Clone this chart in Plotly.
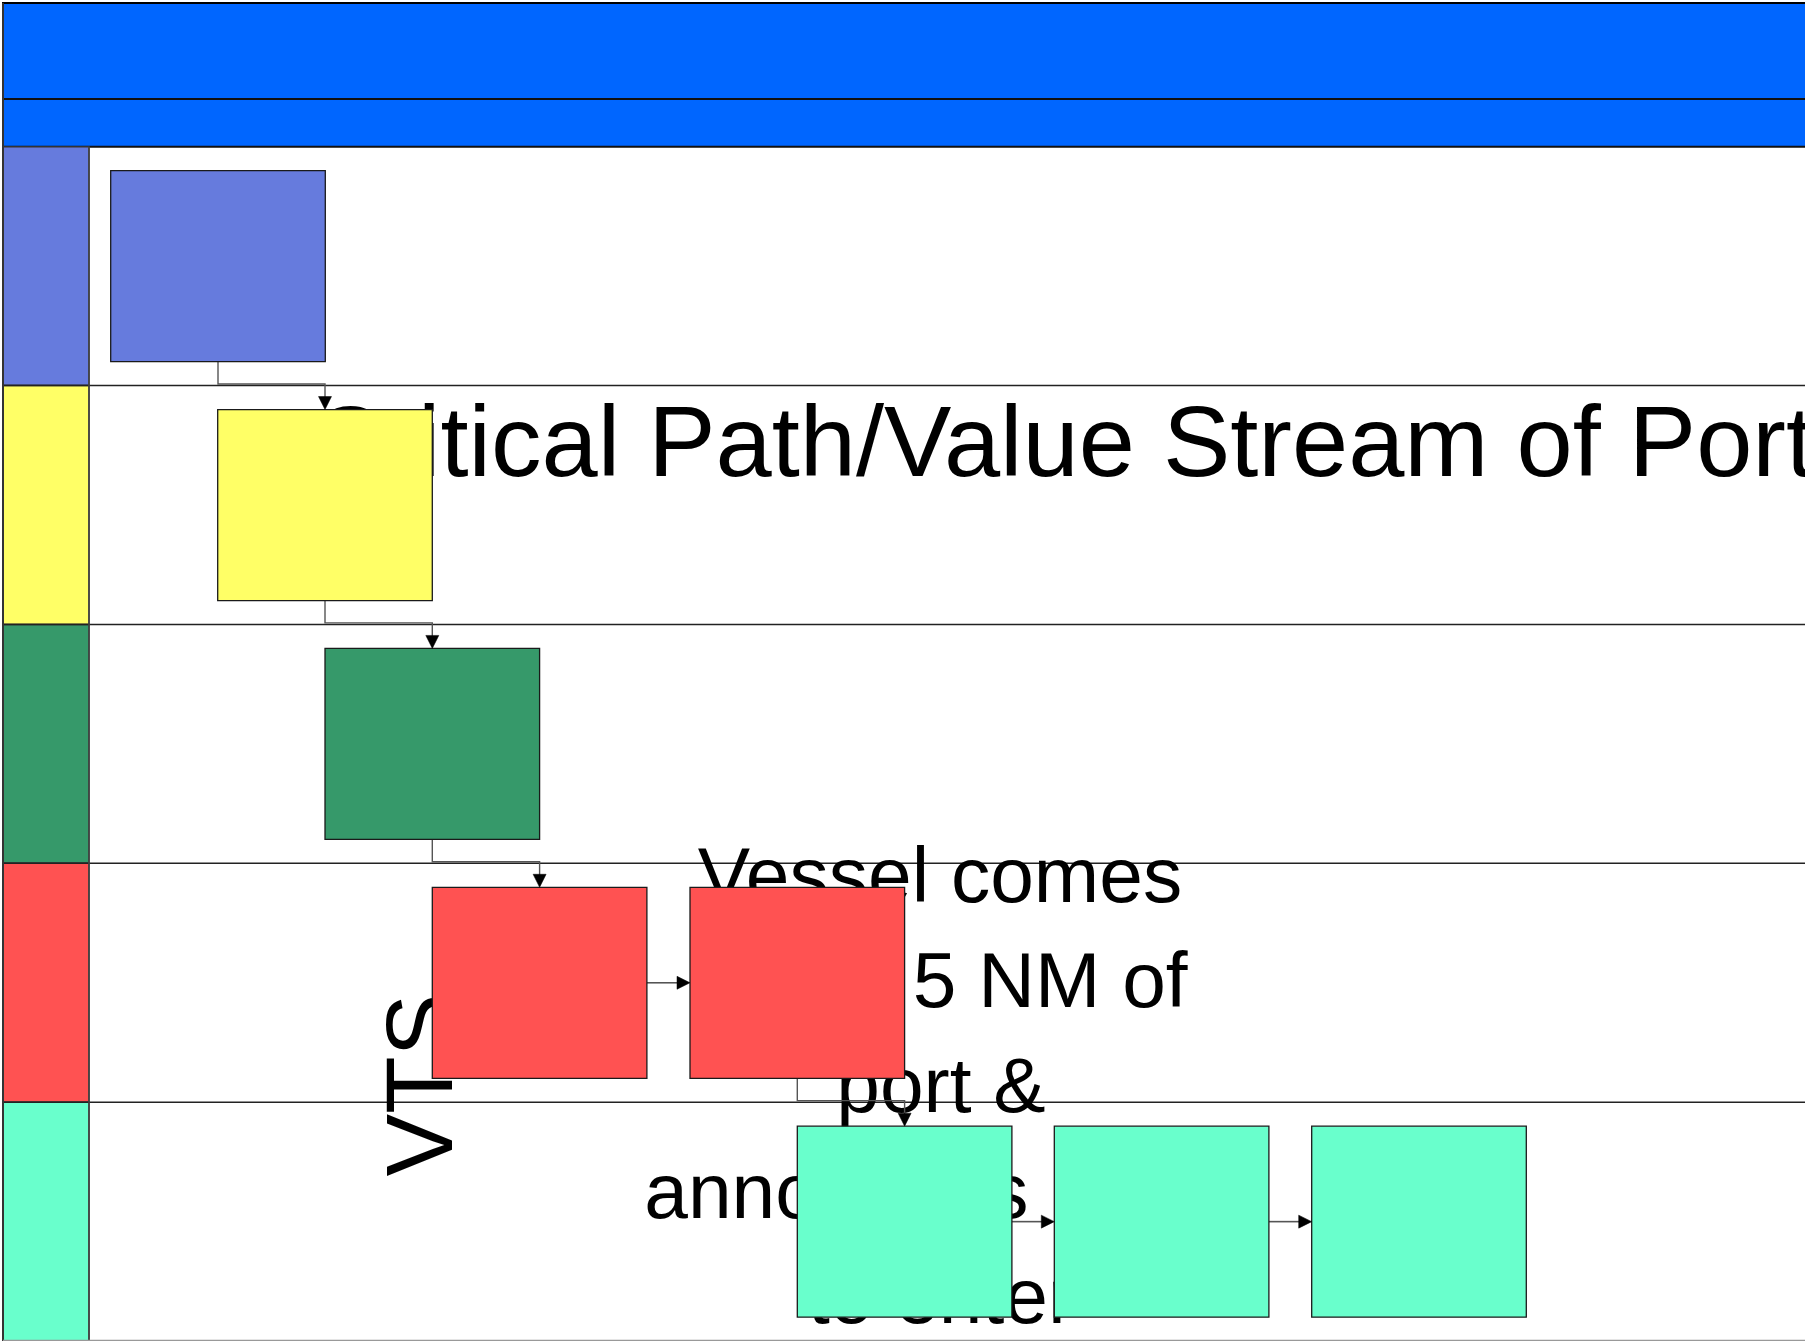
import plotly.graph_objects as go

W, H = 1805, 1341

# ---------------- data ----------------
lane_colors = ["#667BDD", "#FFFF66", "#36996A", "#FF5252", "#69FFCC"]
step_lane = [0, 1, 2, 3, 3, 4, 4, 4]
step_left = [110.7, 217.7, 325.0, 432.3, 690.0, 797.3, 1054.3, 1311.7]
link_from = [0, 1, 2, 3, 4, 5, 6]
link_to = [1, 2, 3, 4, 5, 6, 7]
title_text = "Critical Path/Value Stream of Port"
note_lines = ["Vessel comes", "within 5 NM of", "port &", "announces\u2002intent", "to enter"]
lane_label = "VTS"

# ---------------- layout constants ----------------
FRAME_L, FRAME_T = 3, 3
BAND1_B = 99
HEAD_B = 146.7
LANE_H = 238.86
LABEL_R = 89
BOX_W, BOX_H, BOX_DY = 214.6, 191.0, 24.0
HEAD_COLOR = "#0066FF"
FONT = "Liberation Sans, Arial, sans-serif"
AR_L, AR_W = 13, 6.5
CONN = "#555555"

shapes = []

def lane_top(i):
    return HEAD_B + i * LANE_H

# header bands
shapes.append(dict(type="rect", x0=FRAME_L, x1=W + 5, y0=FRAME_T, y1=BAND1_B,
                   fillcolor=HEAD_COLOR, line=dict(color="black", width=2)))
shapes.append(dict(type="rect", x0=FRAME_L, x1=W + 5, y0=BAND1_B, y1=HEAD_B,
                   fillcolor=HEAD_COLOR, line=dict(color="#111", width=2)))

# lane label cells
for i, c in enumerate(lane_colors):
    shapes.append(dict(type="rect", x0=FRAME_L, x1=LABEL_R, y0=lane_top(i), y1=lane_top(i + 1),
                       fillcolor=c, line=dict(color="#333", width=1.5)))

# lane dividers
for i in range(1, len(lane_colors)):
    shapes.append(dict(type="line", x0=FRAME_L, x1=W + 5, y0=lane_top(i), y1=lane_top(i),
                       line=dict(color="#222", width=1.5)))
# frame lines
shapes.append(dict(type="line", x0=FRAME_L, x1=FRAME_L, y0=FRAME_T, y1=H + 2,
                   line=dict(color="#333", width=2)))
shapes.append(dict(type="line", x0=LABEL_R, x1=LABEL_R, y0=HEAD_B, y1=H + 2,
                   line=dict(color="#444", width=1.5)))
shapes.append(dict(type="line", x0=FRAME_L, x1=W + 5, y0=H - 0.5, y1=H - 0.5,
                   line=dict(color="#999", width=1.5)))

# ---------- texts (drawn before boxes so boxes cover them) ----------
def text_shape(text, x0, y0, x1, y1, size, pos, xanchor="auto", yanchor="top", angle=0):
    return dict(type="rect", x0=x0, x1=x1, y0=y0, y1=y1,
                fillcolor="rgba(0,0,0,0)", line=dict(width=0),
                label=dict(text=text, font=dict(family=FONT, size=size, color="black"),
                           textposition=pos, xanchor=xanchor, yanchor=yanchor,
                           padding=0, textangle=angle))

TITLE_SIZE = 101
TITLE_X = 311.5
TITLE_BASE = 476
shapes.append(text_shape(title_text, TITLE_X - 3, TITLE_BASE - TITLE_SIZE, W, TITLE_BASE + 4,
                         TITLE_SIZE, "top left", "left"))

NOTE_SIZE = 78.5
note_cx = [940, 939, 941, 952, 941]
note_base = [901.7, 1007.0, 1112.3, 1217.6, 1322.9]
for line, cxl, b in zip(note_lines, note_cx, note_base):
    shapes.append(text_shape(line, cxl - 300, b - NOTE_SIZE, cxl + 300, b + 10,
                             NOTE_SIZE, "top center", "center"))

VTS_SIZE = 94
vts_cx = 452 - VTS_SIZE
vts_cy = 1176.5 - 0.5 * 1.945 * VTS_SIZE
shapes.append(text_shape(lane_label, vts_cx - 10, vts_cy - 10, vts_cx + 10, vts_cy + 10,
                         VTS_SIZE, "middle center", "center", "top", -90))

# ---------- boxes geometry ----------
def box(i):
    x0 = step_left[i]
    y0 = lane_top(step_lane[i]) + BOX_DY
    return x0, y0, x0 + BOX_W, y0 + BOX_H

# connectors
heads = []
for a, b in zip(link_from, link_to):
    ax0, ay0, ax1, ay1 = box(a)
    bx0, by0, bx1, by1 = box(b)
    if step_lane[a] == step_lane[b]:
        cy = (ay0 + ay1) / 2
        shapes.append(dict(type="path", path=f"M {ax1},{cy} H {bx0 - AR_L + 1}",
                           line=dict(color=CONN, width=1.6)))
        heads.append(f"M {bx0 - AR_L},{cy - AR_W} L {bx0 - AR_L},{cy + AR_W} L {bx0},{cy} Z")
    else:
        sx = (ax0 + ax1) / 2
        tx = (bx0 + bx1) / 2
        bend = lane_top(step_lane[b]) - 1.5
        shapes.append(dict(type="path", path=f"M {sx},{ay1} V {bend} H {tx} V {by0 - AR_L + 1}",
                           line=dict(color=CONN, width=1.4)))
        heads.append(f"M {tx - AR_W},{by0 - AR_L} L {tx + AR_W},{by0 - AR_L} L {tx},{by0} Z")

# boxes
for i in range(len(step_left)):
    x0, y0, x1, y1 = box(i)
    shapes.append(dict(type="rect", x0=x0, x1=x1, y0=y0, y1=y1,
                       fillcolor=lane_colors[step_lane[i]],
                       line=dict(color="#1a1a1a", width=1.3)))

for p in heads:
    shapes.append(dict(type="path", path=p, fillcolor="black", line=dict(color="black", width=0.5)))

# invisible anchor trace (box centres) so the cartesian axes exist
cx = [box(i)[0] + BOX_W / 2 for i in range(len(step_left))]
cy = [box(i)[1] + BOX_H / 2 for i in range(len(step_left))]
fig = go.Figure(go.Scatter(x=cx, y=cy, mode="markers", marker=dict(opacity=0),
                           hoverinfo="skip", showlegend=False))

fig.update_layout(
    width=W, height=H,
    margin=dict(l=0, r=0, t=0, b=0),
    paper_bgcolor="white", plot_bgcolor="white",
    xaxis=dict(range=[0, W], visible=False, fixedrange=True),
    yaxis=dict(range=[H, 0], visible=False, fixedrange=True),
    shapes=shapes,
    showlegend=False,
)

fig.write_html("out.html", config={"displayModeBar": False},
               post_script="document.body.style.margin='0';document.body.style.overflow='hidden';")
